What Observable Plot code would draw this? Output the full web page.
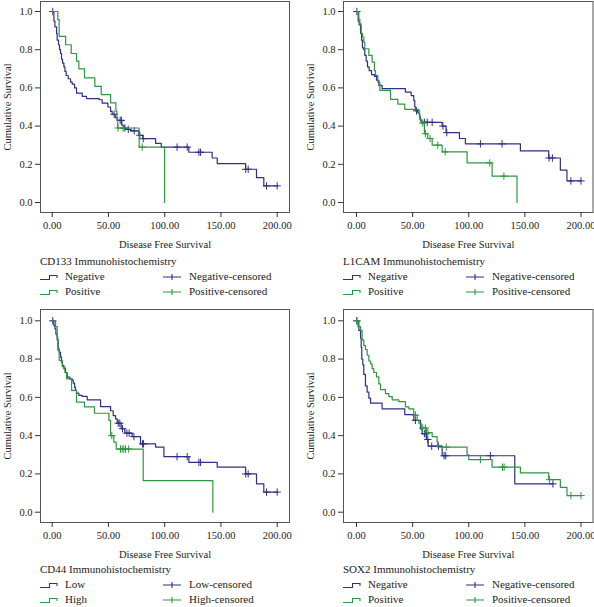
<!DOCTYPE html>
<html><head><meta charset="utf-8">
<script src="https://cdn.jsdelivr.net/npm/d3@7"></script>
<script src="https://cdn.jsdelivr.net/npm/@observablehq/plot@0.6"></script>
<style>
body{margin:0;background:#fff;}
#wrap{position:relative;width:594px;height:607px;font-family:"Liberation Serif","DejaVu Serif",serif;color:#222;overflow:hidden;}
.panel{position:absolute;}
.legend{position:absolute;font-size:11px;line-height:15px;white-space:nowrap;}
.legend .row{position:relative;height:15px;}
.legend .item{position:absolute;top:0;}
.legend svg{position:absolute;top:3px;left:0;}
.legend .lab{position:absolute;top:0;}
</style></head><body><div id="wrap"></div>
<script>
const FONT = '"Liberation Serif","DejaVu Serif",serif';
const BLUE = "#2f2f85";
const GREEN = "#2e9640";
const xTicks = [0, 50, 100, 150, 200];
const yTicks = [0, 0.2, 0.4, 0.6, 0.8, 1.0];
const xLabel = "Disease Free Survival";
const yLabel = "Cumulative Survival";

// CD133
const cd133NegT = [0,1.5,2.4,3.9,4.4,5.6,6.5,7.4,8.3,9.2,10.4,11.3,12.4,14.2,16.3,17.8,19.9,21.6,26.7,30.5,41.8,44.4,49.5,51.9,53.3,56,57.8,61.9,63.7,66.1,69.6,77,80.6,91.9,96.9,121.5,142.2,146.7,171.9,181.6,188.1];
const cd133NegS = [1,0.95,0.92,0.885,0.85,0.826,0.80,0.78,0.75,0.73,0.71,0.686,0.665,0.648,0.63,0.62,0.60,0.573,0.556,0.544,0.538,0.52,0.50,0.477,0.462,0.444,0.43,0.404,0.39,0.383,0.375,0.352,0.334,0.31,0.29,0.263,0.233,0.204,0.174,0.13,0.087];
const cd133NegC = [0.5,55,60.4,61.5,64.6,67.6,72.9,77.9,80.9,111,120,130.4,131.9,172,174.2,190.5,200];
const cd133PosT = [0,5,6.2,11.9,16.9,21.6,23.7,28.7,37.9,43.6,51.9,56.6,57.5,58.2,77.3,99.9];
const cd133PosS = [1,0.957,0.87,0.826,0.78,0.74,0.70,0.652,0.608,0.565,0.522,0.478,0.435,0.39,0.29,0];
const cd133PosC = [58.5,63,80];

// L1CAM
const l1camNegT = [0,1.5,2.4,3.6,4.5,5.3,6.5,7.4,8.6,9.8,11.3,13.4,16,17.8,19.9,22.8,43.6,48.7,51,51.9,52.8,54.6,56.1,57,57.9,76.3,79.8,91.7,97,146,171.2,181.6,187.5];
const l1camNegS = [1,0.95,0.93,0.885,0.85,0.81,0.80,0.77,0.74,0.71,0.69,0.67,0.66,0.64,0.613,0.596,0.578,0.56,0.535,0.50,0.48,0.47,0.45,0.43,0.42,0.40,0.366,0.335,0.307,0.27,0.233,0.17,0.113];
const l1camNegC = [0.3,53.5,60.5,63,67.4,77,80.4,110.4,129.7,171.5,174.5,191,200];
const l1camPosT = [0,2.1,3,4.2,5.3,6.5,7.4,11,13.9,16,16.9,19,20.8,30.3,36.8,43,55.5,56.4,57.6,60.5,63.5,67.4,76.3,98.5,120.8,143];
const l1camPosS = [1,0.96,0.935,0.885,0.866,0.84,0.805,0.77,0.735,0.69,0.666,0.63,0.587,0.54,0.515,0.488,0.465,0.435,0.416,0.36,0.335,0.30,0.265,0.207,0.138,0];
const l1camPosC = [59,61.4,65.5,72.4,79,118.7,131.3];

// CD44
const cd44LowT = [0,1.5,2.4,3.3,4.4,5.3,6.2,7.4,8.3,9.2,10.4,11.9,13.3,15.7,17.8,18.7,19.9,20.7,21.6,23.7,26.7,31.1,43,51.9,54.2,56.3,57.8,61.3,64.6,71.1,78.5,91.9,99.3,121.5,146.7,171.9,181.6,188.1];
const cd44LowS = [1,0.976,0.958,0.93,0.90,0.854,0.836,0.81,0.784,0.766,0.75,0.73,0.706,0.697,0.69,0.674,0.653,0.636,0.622,0.61,0.605,0.587,0.552,0.53,0.505,0.488,0.465,0.436,0.413,0.395,0.357,0.34,0.29,0.26,0.235,0.2,0.148,0.105];
const cd44LowC = [0.5,58.7,60.1,62.5,66.4,68.4,72.6,80.3,81.2,111,120,130.4,131.9,172,174.2,190.5,200];
const cd44HighT = [0,3,4.4,5,6.2,8.9,11.3,12.7,17.2,21.6,28.7,37.6,50.4,51.9,54.8,56.9,80.9,142.8];
const cd44HighS = [1,0.97,0.915,0.845,0.793,0.76,0.73,0.697,0.636,0.575,0.55,0.517,0.48,0.40,0.366,0.33,0.165,0];
const cd44HighC = [53,60.7,62.2,63.7,65.2,68];

// SOX2
const sox2NegT = [0,2.1,3.6,4.2,4.7,5.6,6.5,8,9.5,11,12.5,22.8,43,51,57,58.5,62.3,63.8,76.3,141];
const sox2NegS = [1,0.95,0.91,0.86,0.80,0.77,0.72,0.66,0.627,0.596,0.57,0.54,0.51,0.48,0.435,0.41,0.38,0.345,0.295,0.148];
const sox2NegC = [0.3,52.5,60.5,62,63.5,67,73,78,79.5,119.3,175];
const sox2PosT = [0,1.2,3.6,5,6.5,8,9.5,11,12.5,13.9,15.4,17.8,19.9,21.4,25.8,28.8,31.8,37.7,43.6,46.6,51,54,55.5,57.6,62.3,67.4,71.8,72.4,98.5,100,120.8,146,171.2,181.6,187.5];
const sox2PosS = [1,0.97,0.95,0.90,0.87,0.85,0.82,0.79,0.775,0.75,0.73,0.707,0.67,0.64,0.62,0.604,0.587,0.578,0.55,0.54,0.507,0.48,0.465,0.44,0.416,0.395,0.37,0.34,0.30,0.275,0.235,0.205,0.17,0.13,0.087];
const sox2PosC = [0.3,52.5,59,61.4,63.5,80,110.4,130,131.5,172,191,200];

const titles = ["CD133 Immunohistochemistry","L1CAM Immunohistochemistry","CD44 Immunohistochemistry","SOX2 Immunohistochemistry"];
const groupNames = [["Negative","Positive"],["Negative","Positive"],["Low","High"],["Negative","Positive"]];

function series(T, S, C) {
  const pts = T.map((t, i) => ({t, s: S[i]}));
  const end = d3.max(C) ?? 0;
  if (end > T[T.length - 1]) pts.push({t: end, s: S[S.length - 1]});
  const cens = C.map(t => ({t, s: S[d3.bisectRight(T, t) - 1]}));
  return {pts, cens};
}

const wrap = document.getElementById("wrap");

function drawPanel(cfg) {
  const groups = cfg.groups.map(g => ({...series(g.T, g.S, g.C), color: g.color}));
  const chart = Plot.plot({
    width: cfg.width, height: cfg.height,
    marginTop: 1, marginBottom: 38, marginLeft: 40, marginRight: cfg.marginRight,
    style: {fontFamily: FONT, fontSize: "10.5px", color: "#333", background: "transparent", overflow: "visible"},
    x: {domain: [0, 200], insetLeft: cfg.insetLeft, insetRight: cfg.insetRight},
    y: {domain: [0, 1], insetTop: cfg.insetTop, insetBottom: cfg.insetBottom},
    marks: [
      Plot.frame({stroke: "#555", strokeWidth: 1}),
      Plot.axisX({ticks: xTicks, tickFormat: d3.format(".2f"), tickSize: 5, tickPadding: 4,
        label: xLabel, labelAnchor: "center", labelArrow: "none", labelOffset: 35, fill: "#222"}),
      Plot.axisY({ticks: yTicks, tickFormat: d3.format(".1f"), tickSize: 5, tickPadding: 3,
        label: yLabel, labelAnchor: "center", labelArrow: "none", labelOffset: 37, fill: "#222"}),
      ...groups.flatMap(d => [
        Plot.line(d.pts, {x: "t", y: "s", curve: "step-after", stroke: d.color, strokeWidth: 1.2}),
        Plot.dot(d.cens, {x: "t", y: "s", symbol: "plus", r: 2.5, stroke: d.color, strokeWidth: 1})
      ])
    ]
  });
  const div = document.createElement("div");
  div.className = "panel";
  div.style.left = cfg.left + "px";
  div.style.top = cfg.top + "px";
  div.appendChild(chart);
  wrap.appendChild(div);

  // legend
  const lg = document.createElement("div");
  lg.className = "legend";
  lg.style.left = (cfg.left + 40) + "px";
  lg.style.top = (cfg.top + 254) + "px";
  const stepPath = "M0,7.5 H9.5 V3.5 H17 V6";
  const censPath = "M0,5 H18 M9,2 V8";
  let html = `<div>${cfg.title}</div>`;
  cfg.groups.forEach((g, i) => {
    html += `<div class="row">
      <div class="item" style="left:0"><svg width="19" height="10"><path d="${stepPath}" fill="none" stroke="${g.color}" stroke-width="1.1"/></svg><span class="lab" style="left:25px">${cfg.names[i]}</span></div>
      <div class="item" style="left:123px"><svg width="19" height="10"><path d="${censPath}" fill="none" stroke="${g.color}" stroke-width="1.1"/></svg><span class="lab" style="left:26px">${cfg.names[i]}-censored</span></div>
    </div>`;
  });
  lg.innerHTML = html;
  wrap.appendChild(lg);
}

const leftCol = {left: 0, width: 297, marginRight: 8, insetLeft: 11.7, insetRight: 12.3};
const rightCol = {left: 303, width: 291, marginRight: 1.5, insetLeft: 13, insetRight: 12};
const topRow = {top: 0, height: 250, insetTop: 10, insetBottom: 10};
const botRow = {top: 308, height: 252, insetTop: 11.3, insetBottom: 10.3};

drawPanel({...leftCol, ...topRow, title: titles[0], names: groupNames[0], groups: [
  {T: cd133NegT, S: cd133NegS, C: cd133NegC, color: BLUE},
  {T: cd133PosT, S: cd133PosS, C: cd133PosC, color: GREEN}]});
drawPanel({...rightCol, ...topRow, title: titles[1], names: groupNames[1], groups: [
  {T: l1camNegT, S: l1camNegS, C: l1camNegC, color: BLUE},
  {T: l1camPosT, S: l1camPosS, C: l1camPosC, color: GREEN}]});
drawPanel({...leftCol, ...botRow, title: titles[2], names: groupNames[2], groups: [
  {T: cd44LowT, S: cd44LowS, C: cd44LowC, color: BLUE},
  {T: cd44HighT, S: cd44HighS, C: cd44HighC, color: GREEN}]});
drawPanel({...rightCol, ...botRow, title: titles[3], names: groupNames[3], groups: [
  {T: sox2NegT, S: sox2NegS, C: sox2NegC, color: BLUE},
  {T: sox2PosT, S: sox2PosS, C: sox2PosC, color: GREEN}]});
</script>
</body></html>
